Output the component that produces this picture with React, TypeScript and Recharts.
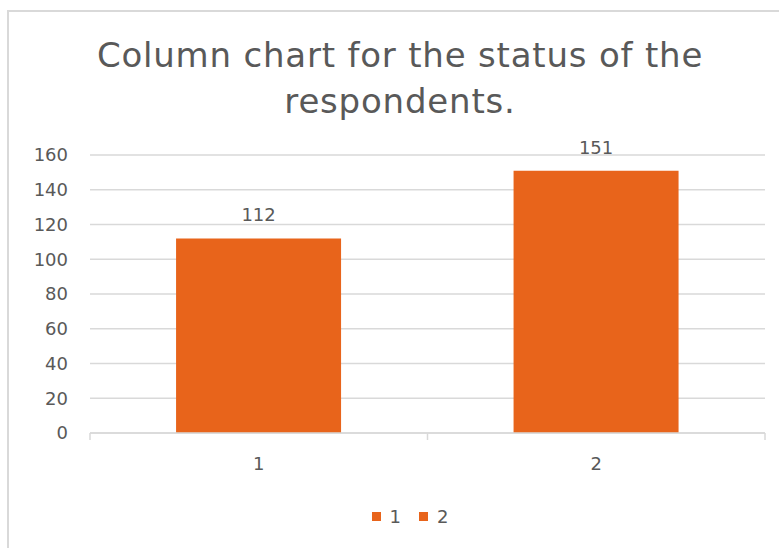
import React from 'react'
import { BarChart, Bar, XAxis, YAxis, CartesianGrid, LabelList } from 'recharts'

const categories = ['1', '2']
const values = [112, 151]
const yTicks = [0, 20, 40, 60, 80, 100, 120, 140, 160]
const titleLines = ['Column chart for the status of the', 'respondents.']

const BAR_COLOR = '#E8641B'
const TEXT = '#595959'
const GRID = '#D9D9D9'
const FONT = '"DejaVu Sans", sans-serif'
const TICK_MARGIN = 24

const data = categories.map((c, i) => ({ name: c, value: values[i] }))

// category label plus the small tick marks at the category boundaries (Excel style)
const CategoryTick = (props: any) => {
  const { x, y, payload, index, width, visibleTicksCount } = props
  const band = width / visibleTicksCount
  const axisY = y - TICK_MARGIN
  return (
    <g>
      <line x1={x - band / 2} x2={x - band / 2} y1={axisY} y2={axisY + 7} stroke={GRID} strokeWidth={1.5} />
      {index === visibleTicksCount - 1 && (
        <line x1={x + band / 2} x2={x + band / 2} y1={axisY} y2={axisY + 7} stroke={GRID} strokeWidth={1.5} />
      )}
      <text x={x} y={y} dy="0.71em" textAnchor="middle" fill={TEXT} fontSize={18} fontFamily={FONT}>
        {payload.value}
      </text>
    </g>
  )
}

export default function App() {
  return (
    <div style={{ position: 'absolute', left: 0, top: 0, width: 779, height: 548, background: '#fff', overflow: 'hidden', fontFamily: FONT }}>
      {/* chart area border */}
      <div style={{ position: 'absolute', left: 7, top: 10, width: 800, height: 600, border: '2px solid #D9D9D9', boxSizing: 'border-box' }} />
      <div style={{ position: 'absolute', left: 0, top: 32, width: 800, textAlign: 'center', color: TEXT, fontSize: 34, lineHeight: '46px', letterSpacing: 0.8 }}>
        {titleLines.map((t) => (
          <div key={t}>{t}</div>
        ))}
      </div>
      <BarChart
        width={779}
        height={548}
        data={data}
        margin={{ top: 155, right: 14, bottom: 85, left: 0 }}
        barCategoryGap="25.5%"
        style={{ position: 'absolute', left: 0, top: 0 }}
      >
        <CartesianGrid vertical={false} stroke={GRID} strokeWidth={1.5} />
        <XAxis
          dataKey="name"
          height={30}
          axisLine={{ stroke: GRID, strokeWidth: 1.5 }}
          tickLine={false}
          tickSize={0}
          tickMargin={TICK_MARGIN}
          tick={<CategoryTick />}
        />
        <YAxis width={90} domain={[0, 160]} ticks={yTicks} axisLine={false} tickLine={false} tickMargin={16} tick={{ fill: TEXT, fontSize: 18, fontFamily: FONT }} />
        <Bar dataKey="value" fill={BAR_COLOR} isAnimationActive={false}>
          <LabelList dataKey="value" position="top" offset={17} fill={TEXT} fontSize={18} fontFamily={FONT} />
        </Bar>
      </BarChart>
      <div style={{ position: 'absolute', left: 0, top: 506, width: 820, display: 'flex', justifyContent: 'center', gap: 18, color: TEXT, fontSize: 18 }}>
        {categories.map((c) => (
          <div key={c} style={{ display: 'flex', alignItems: 'center', gap: 9 }}>
            <span style={{ width: 9, height: 9, background: BAR_COLOR, display: 'inline-block' }} />
            <span>{c}</span>
          </div>
        ))}
      </div>
    </div>
  )
}
